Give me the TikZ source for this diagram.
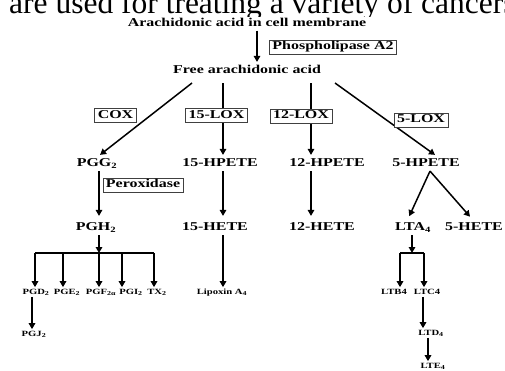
\documentclass[tikz,border=0pt]{standalone}
\usepackage{fontspec}
\setmainfont{Liberation Serif}
\newfontfamily\labfont[FakeStretch=1.33]{Liberation Serif}
\usetikzlibrary{arrows.meta}
\tikzset{
  lab/.style={font=\labfont\bfseries\fontsize{12}{13}\selectfont, inner xsep=1pt, inner ysep=4pt, text height=7.8pt, text depth=0pt},
  small/.style={font=\labfont\bfseries\fontsize{8}{9}\selectfont, inner xsep=1pt, inner ysep=2pt, text height=5.3pt, text depth=0pt},
  enz/.style={draw=black!75, line width=0.7pt, fill=white, font=\labfont\bfseries\fontsize{12}{13}\selectfont, inner xsep=3pt, inner ysep=2.3pt, text height=7.6pt, text depth=1.8pt},
  arr/.style={line width=1.5pt, -{Triangle[width=6.5pt,length=6pt]}},
  ln/.style={line width=1.5pt}
}
\begin{document}
\begin{tikzpicture}[x=1pt,y=-1pt]
\useasboundingbox (0,0) rectangle (505,370);
\clip (0,0) rectangle (505,370);
\fill[white] (0,0) rectangle (505,370);
% clipped page text above the figure
\begin{scope}
\clip (0,0) rectangle (505,16);
\node[anchor=base west, inner sep=0pt, font=\fontsize{31.5}{33}\selectfont] (page) at (9,13) {are used for treating a variety of cancers};
\end{scope}
% main labels
\node[lab] (arach) at (247,22.5) {Arachidonic acid in cell membrane};
\node[lab] (free) at (247,70) {Free arachidonic acid};
\node[lab] (pgg) at (97,163) {PGG\textsubscript{2}};
\node[lab] (hp15) at (220,163) {15-HPETE};
\node[lab] (hp12) at (327,163) {12-HPETE};
\node[lab] (hp5) at (426,163) {5-HPETE};
\node[lab] (pgh) at (96,227) {PGH\textsubscript{2}};
\node[lab] (he15) at (215,227) {15-HETE};
\node[lab] (he12) at (322,227) {12-HETE};
\node[lab] (lta) at (413,227) {LTA\textsubscript{4}};
\node[lab] (he5) at (474,227) {5-HETE};
% small labels
\node[small] (pgd) at (36,292) {PGD\textsubscript{2}};
\node[small] (pge) at (67,292) {PGE\textsubscript{2}};
\node[small] (pgf) at (101,292) {PGF\textsubscript{2α}};
\node[small] (pgi) at (131,292) {PGI\textsubscript{2}};
\node[small] (tx) at (157,292) {TX\textsubscript{2}};
\node[small] (pgj) at (34,334) {PGJ\textsubscript{2}};
\node[small] (lipox) at (222,292) {Lipoxin A\textsubscript{4}};
\node[small] (ltb) at (394,292) {LTB4};
\node[small] (ltc) at (427,292) {LTC4};
\node[small] (ltd) at (431,333) {LTD\textsubscript{4}};
\node[small] (lte) at (433,366) {LTE\textsubscript{4}};
% branch points
\coordinate (s1) at (192,83);
\coordinate (s2) at (223,83);
\coordinate (s3) at (311,83);
\coordinate (s4) at (335,83);
\coordinate (b1) at (35,253);
\coordinate (b2) at (63,253);
\coordinate (b3) at (99,253);
\coordinate (b4) at (122,253);
\coordinate (b5) at (154,253);
\coordinate (l1) at (400,253);
\coordinate (l2) at (412,253);
\coordinate (l3) at (424,253);
% connectors
\draw[arr] ([xshift=10pt]arach.south) -- ([xshift=10pt]free.north);
\draw[arr] (s1) -- ([xshift=3pt]pgg.north);
\draw[arr] (s2) -- (s2 |- hp15.north);
\draw[arr] (s3) -- (s3 |- hp12.north);
\draw[arr] (s4) -- ([xshift=9pt]hp5.north);
\draw[arr, shorten >=3pt] ([xshift=2pt]pgg.south) -- ([xshift=3pt]pgh.north);
\draw[arr, shorten >=3pt] (hp15.south -| s2) -- (he15.north -| s2);
\draw[arr, shorten >=3pt] (hp12.south -| s3) -- (he12.north -| s3);
\draw[arr, shorten >=3pt] ([xshift=4pt]hp5.south) -- ([xshift=-5pt]lta.north);
\draw[arr, shorten >=3pt] ([xshift=4pt]hp5.south) -- ([xshift=-2pt]he5.north);
% prostanoid branch
\draw[arr] (pgh.south -| b3) -- (b3);
\draw[ln] (b1) -- (b5);
\draw[arr] (b1) -- (b1 |- pgd.north);
\draw[arr] (b2) -- (b2 |- pge.north);
\draw[arr] (b3) -- (b3 |- pgf.north);
\draw[arr] (b4) -- (b4 |- pgi.north);
\draw[arr] (b5) -- (b5 |- tx.north);
\draw[arr] ([xshift=-4pt]pgd.south) -- ([xshift=-2pt]pgj.north);
\draw[arr] (he15.south -| s2) -- (lipox.north -| s2);
% leukotriene branch
\draw[arr] (lta.south -| l2) -- (l2);
\draw[ln] (l1) -- (l3);
\draw[arr] (l1) -- (l1 |- ltb.north);
\draw[arr] (l3) -- (l3 |- ltc.north);
\draw[arr] ([xshift=-4pt]ltc.south) -- ([xshift=-8pt]ltd.north);
\draw[arr] ([xshift=-3pt]ltd.south) -- ([xshift=-5pt]lte.north);
% enzyme boxes (drawn over the lines)
\node[enz] (pla) at (333,47) {Phospholipase A2};
\node[enz] (cox) at (115.5,115.5) {COX};
\node[enz] (lox15) at (216.5,115.5) {15-LOX};
\node[enz] (lox12) at (301,116) {12-LOX};
\node[enz] (lox5) at (421,120) {5-LOX};
\node[enz] (perox) at (143,185) {Peroxidase};
\end{tikzpicture}
\end{document}
